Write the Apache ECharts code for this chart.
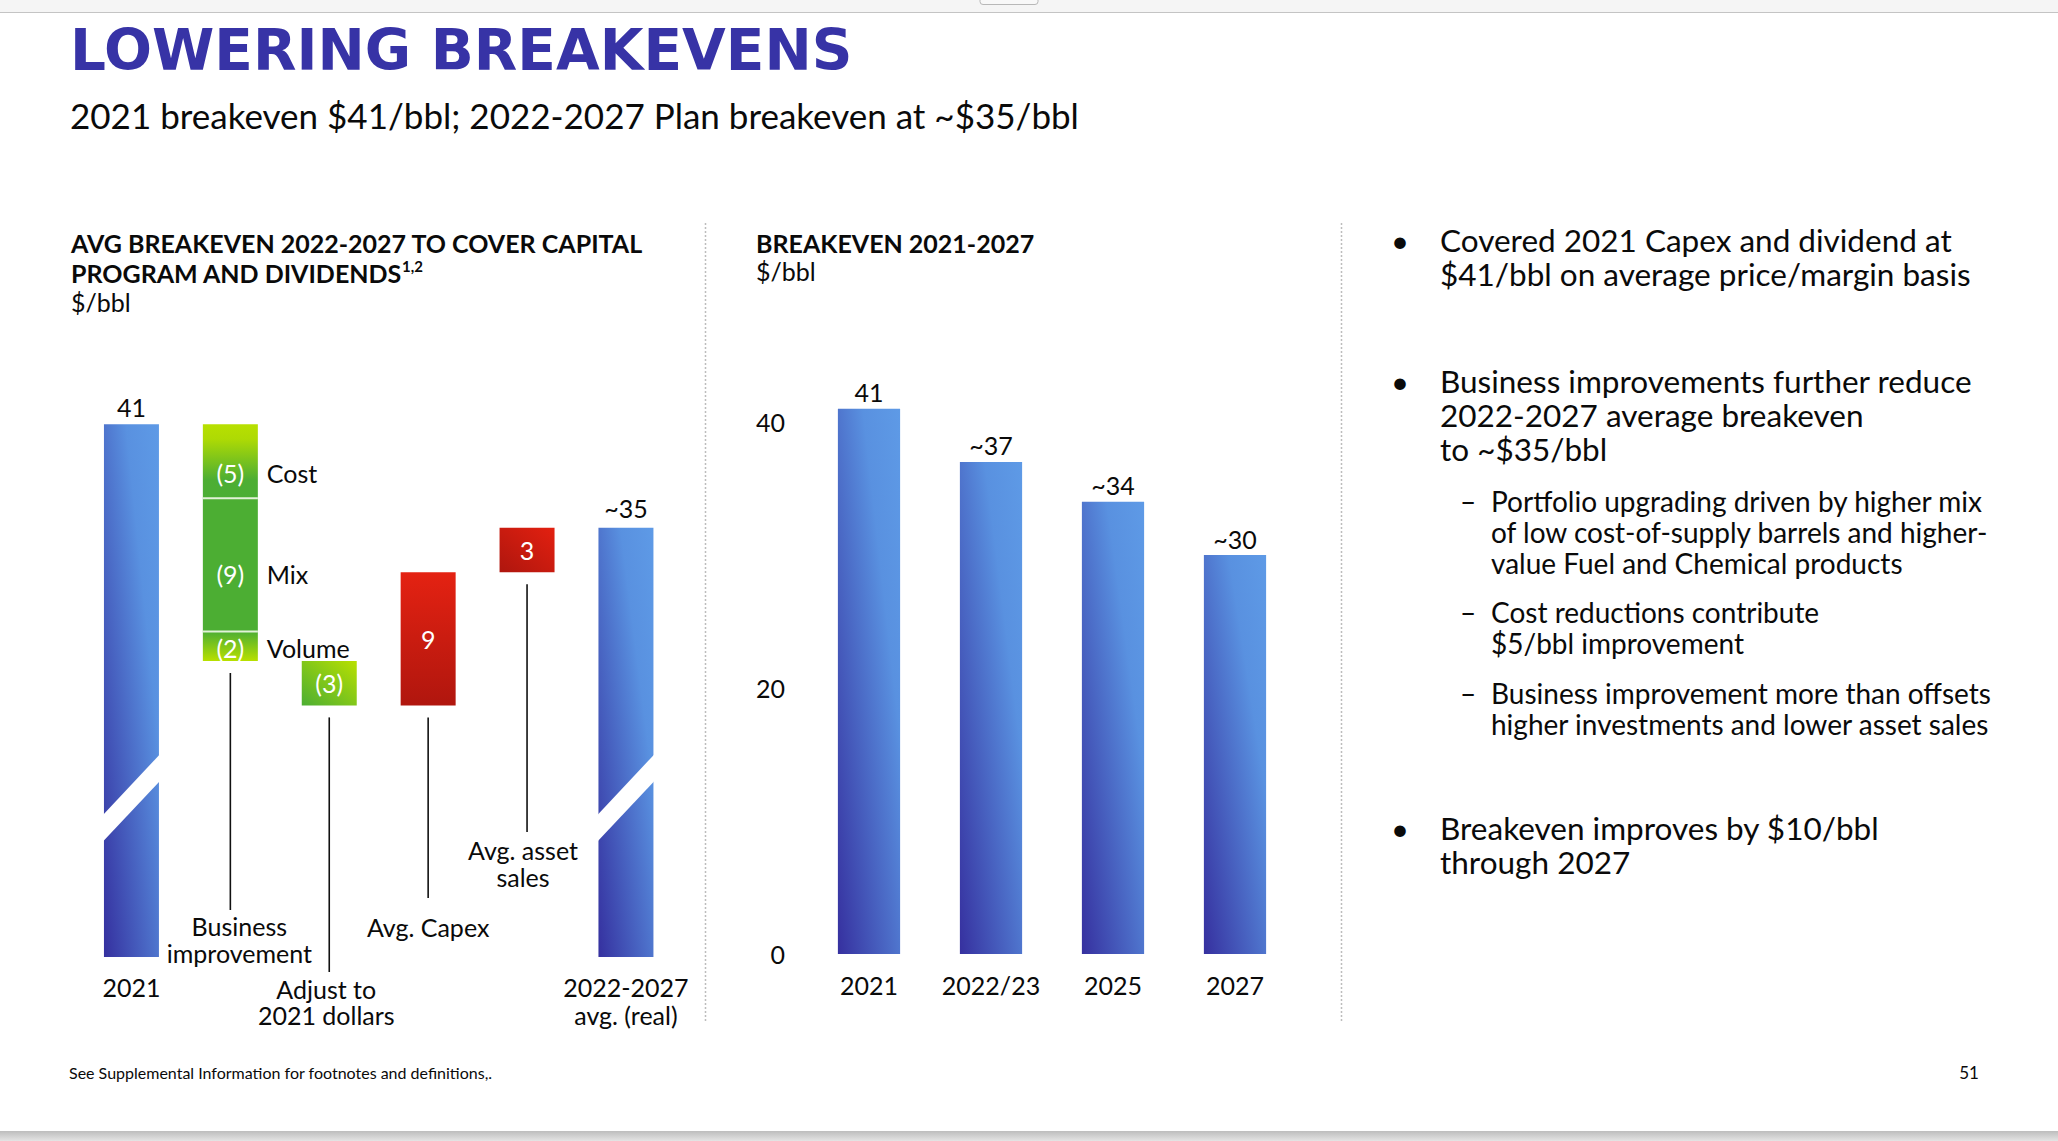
<!DOCTYPE html>
<html><head><meta charset="utf-8">
<script src="https://cdn.jsdelivr.net/npm/echarts@6/dist/echarts.min.js"></script>
<style>html,body{margin:0;padding:0;background:#fff;}#c{width:2058px;height:1141px;}</style>
</head><body><div id="c"></div>
<script>
// ---------------- DATA ----------------
const wfCategories = ['2021', 'Business improvement', 'Adjust to 2021 dollars', 'Avg. Capex', 'Avg. asset sales', '2022-2027 avg. (real)'];
const wfAxisLabels = ['2021', '', '', '', '', '2022-2027\navg. (real)'];
const wfStartValue = 41;
const wfStepNames = ['Cost', 'Mix', 'Volume', 'Adjust to 2021 dollars', 'Avg. Capex', 'Avg. asset sales'];
const wfStepCategory = [1, 1, 1, 2, 3, 4];
const wfStepValues = [-5, -9, -2, -3, 9, 3];
const wfStepLabels = ['(5)', '(9)', '(2)', '(3)', '9', '3'];
const wfStepSideLabels = ['Cost', 'Mix', 'Volume', '', '', ''];
const wfTotalLabels = ['41', '~35'];
const wfCallouts = ['Business\nimprovement', 'Adjust to\n2021 dollars', 'Avg. Capex', 'Avg. asset\nsales'];
const wfCalloutCategory = [1, 2, 3, 4];

const beCategories = ['2021', '2022/23', '2025', '2027'];
const beValues = [41, 37, 34, 30];
const beLabels = ['41', '~37', '~34', '~30'];
const beTicks = [0, 20, 40];

// ---------------- STYLE / LAYOUT ----------------
const FONT = 'Lato, "Noto Sans", sans-serif';
const TXT = '#0a0a0a';
const WF_MIN = 5, WF_MAX = 45;
const BAR_RATIO = 0.556;
const breakLeft = [12.8, 14.6], breakRight = [16.9, 18.7];
const stepFillKeys = ['cost', 'mix', 'volume', 'adjust', 'capex', 'asset'];
const stepLabelDy = [12, 9, 2, 0, 0, 0];
const stepSepTop = [false, true, true, false, false, false];
const calloutLayout = [
  {dx: 9, lineEnd: 910, textY: 939.5, lh: 27},
  {dx: -3, lineEnd: 972, textY: 1002, lh: 26},
  {dx: 0, lineEnd: 898, textY: 927, lh: 27},
  {dx: -4, lineEnd: 832, textY: 863.5, lh: 27}
];
const LG = echarts.graphic.LinearGradient;
const fills = {
  blue: new LG(1, 0, 0, 1, [{offset: 0, color: '#5E9AE6'}, {offset: 0.3, color: '#5991E0'}, {offset: 1, color: '#35309F'}]),
  cost: new LG(0, 0, 0, 1, [{offset: 0, color: '#B8E000'}, {offset: 0.2, color: '#AEDA04'}, {offset: 0.75, color: '#4DAE33'}, {offset: 1, color: '#4BAE35'}]),
  mix: '#4CAE33',
  volume: new LG(0, 0, 0, 1, [{offset: 0, color: '#4CAE33'}, {offset: 1, color: '#B8E000'}]),
  adjust: new LG(0, 1, 1, 0, [{offset: 0, color: '#4CAE33'}, {offset: 1, color: '#B8E000'}]),
  capex: new LG(0, 0, 0, 1, [{offset: 0, color: '#E42212'}, {offset: 1, color: '#B0160E'}]),
  asset: new LG(1, 0, 0, 1, [{offset: 0, color: '#E32010'}, {offset: 1, color: '#AE160E'}])
};

// ---------------- BUILD WATERFALL SEGMENTS ----------------
const segMeta = [];
const segData = [];
segMeta.push({fill: 'blue', label: wfTotalLabels[0], total: true, labelGap: 17});
segData.push([0, WF_MIN, wfStartValue, 0]);
let running = wfStartValue;
wfStepValues.forEach((d, i) => {
  const from = running, to = running + d;
  segMeta.push({fill: stepFillKeys[i], label: wfStepLabels[i], side: wfStepSideLabels[i], dy: stepLabelDy[i], sep: stepSepTop[i], name: wfStepNames[i]});
  segData.push([wfStepCategory[i], Math.min(from, to), Math.max(from, to), segMeta.length - 1]);
  running = to;
});
segMeta.push({fill: 'blue', label: wfTotalLabels[1], total: true, labelGap: 20});
segData.push([5, WF_MIN, running, segMeta.length - 1]);

const calloutData = wfCalloutCategory.map((c, k) => {
  const lows = segData.filter(s => s[0] === c).map(s => s[1]);
  return [c, Math.min.apply(null, lows), k];
});

function txt(text, x, y, o) {
  o = o || {};
  const align = o.align || 'left', va = o.va || 'middle';
  return {
    type: 'text', silent: true, z: o.z || 10,
    style: {
      text: text, x: x, y: y, fill: o.fill || TXT,
      fontSize: o.size || 25, fontFamily: o.family || FONT, fontWeight: o.weight || 'normal',
      align: align, textAlign: align, verticalAlign: va, textVerticalAlign: va,
      lineHeight: o.lh, rich: o.rich
    }
  };
}

function renderSeg(params, api) {
  const cat = api.value(0), lo = api.value(1), hi = api.value(2), m = segMeta[api.value(3)];
  const top = api.coord([cat, hi]), bot = api.coord([cat, lo]);
  const bw = api.size([1, 0])[0] * BAR_RATIO;
  const x0 = top[0] - bw / 2, x1 = top[0] + bw / 2;
  const ch = [{type: 'rect', shape: {x: x0, y: top[1], width: bw, height: bot[1] - top[1]}, style: {fill: fills[m.fill]}}];
  if (m.total) {
    const l1 = api.coord([cat, breakLeft[0]])[1], l2 = api.coord([cat, breakLeft[1]])[1];
    const r1 = api.coord([cat, breakRight[0]])[1], r2 = api.coord([cat, breakRight[1]])[1];
    ch.push({type: 'polygon', shape: {points: [[x0 - 1, l2], [x1 + 1, r2], [x1 + 1, r1], [x0 - 1, l1]]}, style: {fill: '#ffffff'}});
    ch.push(txt(m.label, top[0], top[1] - m.labelGap, {align: 'center'}));
  } else {
    if (m.sep) ch.push({type: 'line', shape: {x1: x0, y1: top[1], x2: x1, y2: top[1]}, style: {stroke: '#E2F2D8', lineWidth: 2}});
    const cy = (top[1] + bot[1]) / 2 + m.dy;
    ch.push(txt(m.label, top[0], cy, {align: 'center', fill: '#ffffff'}));
    if (m.side) ch.push(txt(m.side, x1 + 9, cy, {align: 'left'}));
  }
  return {type: 'group', children: ch};
}

function renderCallout(params, api) {
  const cat = api.value(0), low = api.value(1), k = api.value(2);
  const L = calloutLayout[k];
  const p = api.coord([cat, low]);
  return {type: 'group', children: [
    {type: 'line', shape: {x1: p[0], y1: p[1] + 12, x2: p[0], y2: L.lineEnd}, style: {stroke: '#111', lineWidth: 1.6}},
    txt(wfCallouts[k], p[0] + L.dx, L.textY, {align: 'center', lh: L.lh})
  ]};
}

// ---------------- STATIC GRAPHICS ----------------
const graphics = [
  {type: 'rect', shape: {x: 0, y: 0, width: 2058, height: 12}, style: {fill: '#F5F5F5'}, z: 1},
  {type: 'line', shape: {x1: 0, y1: 12.5, x2: 2058, y2: 12.5}, style: {stroke: '#C4C4C4', lineWidth: 1}, z: 2},
  {type: 'rect', shape: {x: 980, y: -5, width: 58, height: 9.5, r: 3}, style: {fill: '#F8F8F8', stroke: '#B8B8B8', lineWidth: 1}, z: 3},
  {type: 'rect', shape: {x: 0, y: 1131, width: 2058, height: 10}, style: {fill: new LG(0, 0, 0, 1, [{offset: 0, color: '#BDBDBD'}, {offset: 1, color: '#E4E4E4'}])}, z: 1},
  txt('LOWERING BREAKEVENS', 70, 50, {size: 56.5, weight: 'bold', family: '"DejaVu Sans", sans-serif', fill: '#3733A6'}),
  txt('2021 breakeven $41/bbl; 2022-2027 Plan breakeven at ~$35/bbl', 70, 115, {size: 35}),
  txt('AVG BREAKEVEN 2022-2027 TO COVER CAPITAL\nPROGRAM AND DIVIDENDS{sup|1,2}', 71, 228, {size: 25, weight: 'bold', va: 'top', lh: 30,
    rich: {sup: {fontSize: 15, fontWeight: 'bold', fontFamily: FONT, fill: TXT, verticalAlign: 'top', lineHeight: 22}}}),
  txt('$/bbl', 71, 302, {size: 25}),
  txt('BREAKEVEN 2021-2027', 756, 243, {size: 25, weight: 'bold'}),
  txt('$/bbl', 756, 271, {size: 25}),
  {type: 'line', shape: {x1: 705.5, y1: 223, x2: 705.5, y2: 1022}, style: {stroke: '#BDBDBD', lineWidth: 1.5, lineDash: [2, 2]}},
  {type: 'line', shape: {x1: 1341.5, y1: 223, x2: 1341.5, y2: 1022}, style: {stroke: '#BDBDBD', lineWidth: 1.5, lineDash: [2, 2]}},
  txt('See Supplemental Information for footnotes and definitions,.', 69, 1072, {size: 16}),
  txt('51', 1969, 1072, {size: 17, align: 'center'})
];
const bulletBlocks = [
  {kind: 'dot', first: 239.5, lines: ['Covered 2021 Capex and dividend at', '$41/bbl on average price/margin basis']},
  {kind: 'dot', first: 381, lines: ['Business improvements further reduce', '2022-2027 average breakeven', 'to ~$35/bbl']},
  {kind: 'dash', first: 501, lines: ['Portfolio upgrading driven by higher mix', 'of low cost-of-supply barrels and higher-', 'value Fuel and Chemical products']},
  {kind: 'dash', first: 612, lines: ['Cost reductions contribute', '$5/bbl improvement']},
  {kind: 'dash', first: 693, lines: ['Business improvement more than offsets', 'higher investments and lower asset sales']},
  {kind: 'dot', first: 827.5, lines: ['Breakeven improves by $10/bbl', 'through 2027']}
];
bulletBlocks.forEach(b => {
  if (b.kind === 'dot') {
    graphics.push(txt('\u2022', 1400, b.first, {size: 31, align: 'center'}));
    graphics.push(txt(b.lines.join('\n'), 1440, b.first - 17, {size: 31.5, va: 'top', lh: 34}));
  } else {
    graphics.push(txt('\u2013', 1460, b.first, {size: 28, align: 'left'}));
    graphics.push(txt(b.lines.join('\n'), 1491, b.first - 15.5, {size: 28, va: 'top', lh: 31}));
  }
});

// ---------------- CHART ----------------
const chart = echarts.init(document.getElementById('c'), null, {renderer: 'svg'});
chart.setOption({
  animation: false,
  backgroundColor: '#ffffff',
  textStyle: {fontFamily: FONT},
  graphic: {elements: graphics},
  grid: [
    {left: 82, width: 593.4, top: 365, bottom: 184},
    {left: 808, width: 488, top: 355.5, bottom: 187}
  ],
  xAxis: [
    {type: 'category', gridIndex: 0, data: wfCategories, axisLine: {show: false}, axisTick: {show: false},
      axisLabel: {interval: 0, margin: 16, fontSize: 25, lineHeight: 28, color: TXT, fontFamily: FONT,
        formatter: (v, i) => wfAxisLabels[i]}},
    {type: 'category', gridIndex: 1, data: beCategories, axisLine: {show: false}, axisTick: {show: false},
      axisLabel: {interval: 0, margin: 17, fontSize: 25, lineHeight: 28, color: TXT, fontFamily: FONT}}
  ],
  yAxis: [
    {type: 'value', gridIndex: 0, min: WF_MIN, max: WF_MAX, show: false, splitLine: {show: false}},
    {type: 'value', gridIndex: 1, min: 0, max: 45, interval: 20, splitLine: {show: false}, axisLine: {show: false}, axisTick: {show: false},
      axisLabel: {margin: 23, fontSize: 25, color: TXT, fontFamily: FONT,
        formatter: v => (beTicks.indexOf(v) >= 0 ? String(v) : '')}}
  ],
  series: [
    {type: 'custom', xAxisIndex: 0, yAxisIndex: 0, encode: {x: 0, y: [1, 2]}, data: segData, renderItem: renderSeg, clip: false, silent: true},
    {type: 'custom', xAxisIndex: 0, yAxisIndex: 0, encode: {x: 0, y: 1}, data: calloutData, renderItem: renderCallout, clip: false, silent: true},
    {type: 'bar', xAxisIndex: 1, yAxisIndex: 1, barWidth: '51%', data: beValues, silent: true,
      itemStyle: {color: new LG(1, 0, 0, 1, [{offset: 0, color: '#5E9AE6'}, {offset: 0.3, color: '#5991E0'}, {offset: 1, color: '#36309F'}])},
      label: {show: true, position: 'top', distance: 4, fontSize: 25, color: TXT, fontFamily: FONT,
        formatter: p => beLabels[p.dataIndex]}}
  ]
});
</script>
</body></html>
